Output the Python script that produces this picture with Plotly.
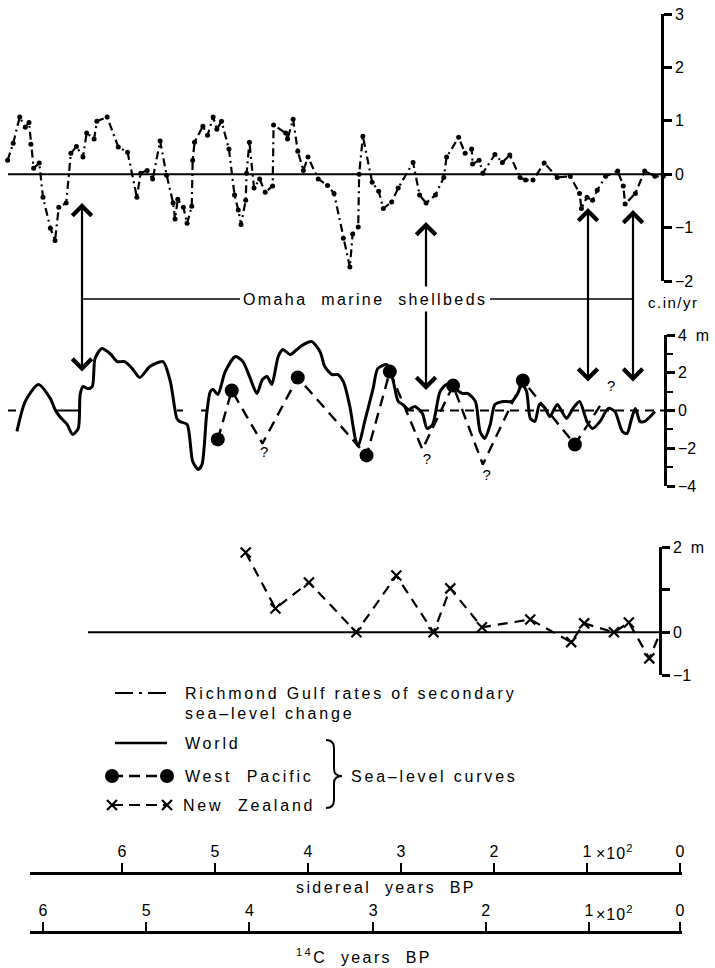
import plotly.graph_objects as go

W, H = 715, 968
FONT = "Liberation Sans, Arial, Helvetica, sans-serif"

# ---------------- data (x = hundreds of sidereal years BP) ----------------
RG_X = [7.23, 7.17, 7.10, 7.04, 7.00, 6.98, 6.95, 6.89, 6.85, 6.77, 6.72, 6.68, 6.60, 6.55, 6.49,
        6.42, 6.38, 6.30, 6.27, 6.16, 6.04, 5.94, 5.84, 5.80, 5.73, 5.67, 5.59, 5.52, 5.45, 5.43,
        5.40, 5.34, 5.30, 5.25, 5.24, 5.22, 5.13, 5.08, 5.02, 4.98, 4.93, 4.85, 4.79, 4.75, 4.72,
        4.67, 4.66, 4.63, 4.58, 4.52, 4.46, 4.38, 4.37, 4.24, 4.22, 4.16, 4.11, 4.05, 4.00, 3.89,
        3.79, 3.72, 3.62, 3.55, 3.52, 3.46, 3.45, 3.41, 3.31, 3.24, 3.19, 3.10, 3.03, 2.87, 2.80,
        2.73, 2.63, 2.54, 2.51, 2.38, 2.31, 2.24, 2.23, 2.16, 2.12, 1.99, 1.91, 1.83, 1.72, 1.66,
        1.58, 1.46, 1.32, 1.18, 1.08, 1.06, 1.00, 0.94, 0.89, 0.80, 0.67, 0.61, 0.59, 0.48, 0.38,
        0.27, 0.18]
RG_Y = [0.26, 0.58, 1.07, 0.88, 0.97, 0.56, 0.11, 0.21, -0.43, -1.01, -1.24, -0.62, -0.54, 0.39, 0.52,
        0.32, 0.77, 0.66, 0.99, 1.07, 0.51, 0.41, -0.43, 0.02, 0.07, -0.09, 0.62, -0.02, -0.54, -0.84,
        -0.47, -0.62, -0.92, -0.60, 0.26, 0.60, 0.90, 0.73, 1.07, 0.84, 0.99, 0.47, -0.39, -0.67, -0.94,
        -0.49, 0.02, 0.60, -0.26, -0.09, -0.34, -0.22, 0.92, 0.77, 0.66, 1.03, 0.43, 0.07, 0.32, -0.09,
        -0.21, -0.36, -1.20, -1.74, -1.12, -0.99, 0.00, 0.71, -0.15, -0.32, -0.64, -0.52, -0.26, 0.22, -0.39,
        -0.54, -0.39, -0.06, 0.32, 0.69, 0.39, 0.47, 0.19, 0.26, 0.02, 0.37, 0.22, 0.36, -0.06, -0.11,
        -0.11, 0.21, -0.06, -0.04, -0.36, -0.64, -0.43, -0.49, -0.30, -0.04, 0.06, -0.22, -0.56, -0.36, 0.06,
        -0.04, -0.04]

WORLD_X = [7.13, 7.04, 6.90, 6.77, 6.72, 6.67, 6.59, 6.53, 6.47, 6.45, 6.42, 6.37, 6.32, 6.29, 6.22,
           6.13, 6.05, 5.97, 5.89, 5.81, 5.73, 5.70, 5.56, 5.48, 5.41, 5.38, 5.30, 5.24, 5.18, 5.14,
           5.09, 5.05, 5.02, 4.97, 4.89, 4.78, 4.70, 4.62, 4.55, 4.49, 4.44, 4.39, 4.32, 4.27, 4.19,
           4.12, 4.05, 3.96, 3.87, 3.82, 3.74, 3.68, 3.62, 3.55, 3.49, 3.46, 3.39, 3.30, 3.25, 3.15,
           3.09, 3.03, 2.98, 2.92, 2.85, 2.77, 2.72, 2.66, 2.58, 2.51, 2.42, 2.34, 2.28, 2.20, 2.15,
           2.10, 2.04, 1.99, 1.90, 1.81, 1.75, 1.70, 1.65, 1.61, 1.56, 1.51, 1.45, 1.40, 1.32, 1.27,
           1.22, 1.15, 1.08, 1.00, 0.94, 0.86, 0.77, 0.70, 0.62, 0.57, 0.52, 0.48, 0.43, 0.38, 0.32,
           0.27]
WORLD_Y = [-1.11, 0.48, 1.38, 0.63, 0.05, -0.32, -0.74, -1.27, -0.95, 0.85, 1.27, 1.16, 1.27, 2.75, 3.28,
           3.02, 2.59, 2.59, 2.22, 1.75, 2.17, 2.33, 2.59, 1.53, -0.42, -0.58, -0.74, -2.70, -3.12, -2.86,
           -0.21, 1.01, 1.11, 0.85, 2.06, 2.86, 2.59, 1.69, 0.90, 1.64, 1.80, 1.38, 2.86, 3.23, 2.96,
           3.23, 3.49, 3.65, 3.12, 2.33, 1.90, 1.90, 1.53, 0.21, -1.53, -1.90, -0.58, 1.16, 2.22, 2.43,
           1.69, 0.48, 0.32, 0.05, 0.21, -0.16, -0.95, -0.74, 1.01, 1.38, 1.16, 0.90, 0.90, 0.48, -1.11,
           -1.48, -0.74, 0.32, 0.48, 0.48, 0.85, 1.38, 1.01, -0.42, -0.58, 0.32, 0.11, -0.32, 0.32, -0.05,
           -0.42, 0.11, 0.48, -0.58, -0.95, -0.58, 0.11, -0.05, -1.11, -1.22, -0.42, 0.11, -0.58, -0.58, -0.32,
           -0.05]

WP_X = [4.97, 4.82, 4.49, 4.11, 3.37, 3.12, 2.77, 2.44, 2.12, 1.69, 1.13, 0.83]
WP_Y = [-1.53, 1.06, -1.75, 1.75, -2.38, 2.06, -2.06, 1.32, -2.86, 1.59, -1.80, 0.48]
WP_IS_DOT = [True, True, False, True, True, True, False, True, False, True, True, False]
QUERY_X = [4.47, 2.72, 2.08, 0.74]
QUERY_Y = [-2.28, -2.65, -3.49, 1.22]

NZ_X = [4.67, 4.35, 3.99, 3.48, 3.05, 2.65, 2.47, 2.13, 1.61, 1.17, 1.03, 0.71, 0.55, 0.33]
NZ_Y = [1.87, 0.56, 1.17, 0.00, 1.33, 0.00, 1.03, 0.12, 0.30, -0.23, 0.21, 0.00, 0.23, -0.61]
NZ_END = (0.21, 0.0)

TOP_TICKS = [-2, -1, 0, 1, 2, 3]
TOP_LABELS = ["\u22122", "\u22121", "0", "1", "2", "3"]
MID_TICKS = [-4, -2, 0, 2, 4]
MID_LABELS = ["\u22124", "\u22122", "0", "2", "4\u00a0\u00a0m"]
MID_MINOR = [-3, -1, 1, 3]
BOT_TICKS = [-1, 0, 1, 2]
BOT_LABELS = ["\u22121", "0", "", "2\u00a0\u00a0m"]

SID_TICKS = [6, 5, 4, 3, 2, 1, 0]
SID_LABELS = ["6", "5", "4", "3", "2", "1", "0"]
C14_POS = [6.85, 5.74, 4.63, 3.30, 2.09, 0.98, 0.00]   # 14C ages placed on the sidereal scale
C14_LABELS = ["6", "5", "4", "3", "2", "1", "0"]

# ---------------- geometry helpers (pixel -> axis/paper) ----------------
X0PIX, PXU = 680.0, 93.0
def xval(p):
    return (X0PIX - p) / PXU
def pxp(p):
    return p / W
def pyp(q):
    return 1 - q / H

X_RANGE = [xval(0), xval(W)]

fig = go.Figure()

def hidden_x(anchor):
    return dict(domain=[0, 1], range=X_RANGE, visible=False, anchor=anchor, fixedrange=True,
                automargin=False)

def yax(q_top, q_bot, rng, tv, tt, xpos, minor=None):
    d = dict(domain=[pyp(q_bot), pyp(q_top)], range=rng, anchor="free", position=pxp(xpos),
             side="right", showline=True, linewidth=2.6, linecolor="black", ticks="outside",
             ticklen=8, tickwidth=2.6, tickcolor="black", tickvals=tv, ticktext=tt,
             tickfont=dict(size=16, family=FONT, color="black"), showgrid=False, zeroline=False,
             fixedrange=True, automargin=False, ticklabeloverflow="allow")
    if minor:
        d["minor"] = dict(tickvals=minor, ticks="outside", ticklen=6, tickwidth=2.4, tickcolor="black")
    return d

def time_axis(q_line, tv, tt):
    return dict(domain=[pxp(30), pxp(682)], range=[xval(30), xval(682)], anchor="free",
                position=pyp(q_line), side="top", showline=True, linewidth=2.6, linecolor="black",
                ticks="outside", ticklen=9, tickwidth=2.4, tickcolor="black",
                tickvals=tv, ticktext=tt, showgrid=False, zeroline=False,
                tickfont=dict(size=16, family=FONT, color="black"), fixedrange=True,
                automargin=False)

# ---- top panel: Richmond Gulf ----
fig.add_trace(go.Scatter(x=[xval(8), xval(662)], y=[0, 0], mode="lines",
                         line=dict(color="black", width=2), xaxis="x", yaxis="y", hoverinfo="skip"))
fig.add_trace(go.Scatter(x=RG_X, y=RG_Y, mode="lines+markers",
                         line=dict(color="black", width=2.2, dash="8px,4px,2px,4px"),
                         marker=dict(size=5, color="black"), xaxis="x", yaxis="y"))

# ---- middle panel ----
mid_zero_solid = [(xval(8), xval(16)), (xval(57), xval(80)), (xval(177), xval(183)), (xval(201), xval(207))]
for a, b in mid_zero_solid:
    fig.add_trace(go.Scatter(x=[a, b], y=[0, 0], mode="lines", line=dict(color="black", width=2),
                             xaxis="x2", yaxis="y2", hoverinfo="skip"))
fig.add_trace(go.Scatter(x=[xval(405), xval(664)], y=[0, 0], mode="lines",
                         line=dict(color="black", width=2, dash="9px,6px"),
                         xaxis="x2", yaxis="y2", hoverinfo="skip"))
fig.add_trace(go.Scatter(x=WORLD_X, y=WORLD_Y, mode="lines",
                         line=dict(color="black", width=3, shape="spline", smoothing=0.7),
                         xaxis="x2", yaxis="y2"))
fig.add_trace(go.Scatter(x=WP_X, y=WP_Y, mode="lines",
                         line=dict(color="black", width=2.4, dash="11px,7px"),
                         xaxis="x2", yaxis="y2"))
fig.add_trace(go.Scatter(x=[x for x, d in zip(WP_X, WP_IS_DOT) if d],
                         y=[y for y, d in zip(WP_Y, WP_IS_DOT) if d], mode="markers",
                         marker=dict(size=14, color="black"), xaxis="x2", yaxis="y2"))
fig.add_trace(go.Scatter(x=QUERY_X, y=QUERY_Y, mode="text", text=["?"] * len(QUERY_X),
                         textfont=dict(size=15, family=FONT, color="black"),
                         xaxis="x2", yaxis="y2", cliponaxis=False))

# ---- bottom panel: New Zealand ----
fig.add_trace(go.Scatter(x=[xval(88), xval(660)], y=[0, 0], mode="lines",
                         line=dict(color="black", width=2), xaxis="x3", yaxis="y3", hoverinfo="skip"))
fig.add_trace(go.Scatter(x=NZ_X + [NZ_END[0]], y=NZ_Y + [NZ_END[1]], mode="lines",
                         line=dict(color="black", width=2.2, dash="10px,7px"),
                         xaxis="x3", yaxis="y3"))
fig.add_trace(go.Scatter(x=NZ_X, y=NZ_Y, mode="markers",
                         marker=dict(symbol="x-thin", size=10, color="black",
                                     line=dict(width=2.2, color="black")),
                         xaxis="x3", yaxis="y3", cliponaxis=False))

# ---- time axes dummy traces ----
fig.add_trace(go.Scatter(x=[None], y=[None], xaxis="x4", yaxis="y4", showlegend=False))
fig.add_trace(go.Scatter(x=[None], y=[None], xaxis="x6", yaxis="y6", showlegend=False))

# ---- overlay (pixel space) for legend, arrows, labels ----
OV = dict(xaxis="x5", yaxis="y5", hoverinfo="skip")
fig.add_trace(go.Scatter(x=[115, 170], y=[693, 693], mode="lines",
                         line=dict(color="black", width=2.2, dash="18px,6px,3px,6px"), **OV))
fig.add_trace(go.Scatter(x=[115, 167], y=[743, 743], mode="lines",
                         line=dict(color="black", width=2.6), **OV))
fig.add_trace(go.Scatter(x=[112, 167], y=[776, 776], mode="lines+markers",
                         line=dict(color="black", width=2.4, dash="11px,6px"),
                         marker=dict(size=14, color="black"), **OV))
fig.add_trace(go.Scatter(x=[112, 167], y=[805, 805], mode="lines+markers",
                         line=dict(color="black", width=2.2, dash="11px,6px"),
                         marker=dict(symbol="x-thin", size=10, color="black",
                                     line=dict(width=2.2, color="black")), **OV))

def spaced(t, ls=2.8):
    return '<span style="letter-spacing:%spx">%s</span>' % (ls, t)

ann = []
def text(x, y, t, xanchor="left", size=16, ls=2.8):
    ann.append(dict(x=x, y=y, xref="x5", yref="y5", text=spaced(t, ls), showarrow=False,
                    xanchor=xanchor, yanchor="middle", font=dict(size=size, family=FONT, color="black")))

text(183, 693, "Richmond Gulf rates of secondary")
text(183, 713, "sea\u2013level change")
text(183, 743, "World")
text(183, 776, "West  Pacific")
text(181, 805, "New  Zealand")
text(349, 776, "Sea\u2013level curves")
text(365, 299, "Omaha  marine  shellbeds", xanchor="center", ls=2.4)
text(646, 302, "c.in/yr", size=15, ls=1.5)
text(386, 887, "sidereal  years  BP", xanchor="center", ls=2.4)
text(364, 956, "<sup>14</sup>C  years  BP", xanchor="center", ls=2.4)
text(594, 852, "\u00d710<sup>2</sup>", ls=1)
text(594, 913, "\u00d710<sup>2</sup>", ls=1)

def arrow(x, y_tip, y_tail, both=False):
    ann.append(dict(x=x, y=y_tip, ax=x, ay=y_tail, xref="x5", yref="y5", axref="x5", ayref="y5",
                    text="", showarrow=True, arrowhead=4, startarrowhead=4,
                    arrowside="end+start" if both else "end", arrowwidth=2.2, arrowsize=1.7,
                    startarrowsize=1.7, arrowcolor="black"))

arrow(82, 203, 373, both=True)
arrow(426, 222, 288)
arrow(426, 390, 310)
arrow(588, 208, 383, both=True)
arrow(633, 210, 383, both=True)

shapes = [
    dict(type="line", xref="x5", yref="y5", x0=83, x1=240, y0=299, y1=299, line=dict(color="black", width=1.6)),
    dict(type="line", xref="x5", yref="y5", x0=490, x1=633, y0=299, y1=299, line=dict(color="black", width=1.6)),
    dict(type="path", xref="x5", yref="y5",
         path="M 326 740 Q 334 740 334 748 L 334 769 Q 334 776 342 776 Q 334 776 334 783 L 334 800 Q 334 808 326 808",
         line=dict(color="black", width=2)),
]

fig.update_layout(
    width=W, height=H, margin=dict(l=0, r=0, t=0, b=0, pad=0), autosize=False,
    paper_bgcolor="white", plot_bgcolor="rgba(0,0,0,0)", showlegend=False,
    xaxis=hidden_x("y"),
    yaxis=yax(14, 281, [-2, 3], TOP_TICKS, TOP_LABELS, 662),
    xaxis2=hidden_x("y2"),
    yaxis2=yax(335, 486, [-4, 4], MID_TICKS, MID_LABELS, 665, minor=MID_MINOR),
    xaxis3=hidden_x("y3"),
    yaxis3=yax(547, 675, [-1, 2], BOT_TICKS, BOT_LABELS, 660),
    xaxis4=time_axis(873, SID_TICKS, SID_LABELS),
    yaxis4=dict(domain=[0, 0.01], visible=False, anchor="x4", fixedrange=True),
    xaxis6=time_axis(932, C14_POS, C14_LABELS),
    yaxis6=dict(domain=[0, 0.01], visible=False, anchor="x6", fixedrange=True),
    xaxis5=dict(domain=[0, 1], range=[0, W], visible=False, anchor="y5", fixedrange=True),
    yaxis5=dict(domain=[0, 1], range=[H, 0], visible=False, anchor="x5", fixedrange=True),
    annotations=ann, shapes=shapes,
)

# remove the page's default body margin so the 715x968 figure fills the window exactly
fig.write_html("out.html", config={"displayModeBar": False},
               post_script="document.body.style.margin='0px';")
